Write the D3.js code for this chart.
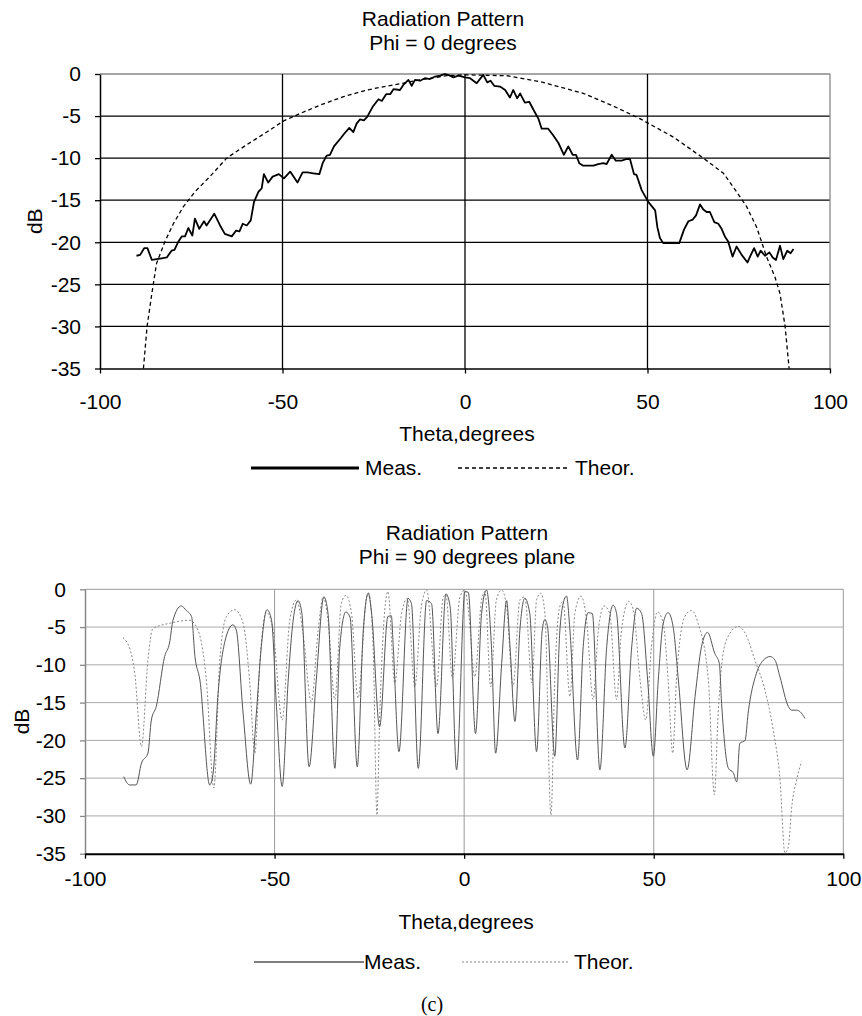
<!DOCTYPE html>
<html>
<head>
<meta charset="utf-8">
<script src="https://cdn.jsdelivr.net/npm/d3@7"></script>
<style>
  body { margin: 0; background: #fff; }
  svg { display: block; font-family: "Liberation Sans", Arial, sans-serif; }
</style>
</head>
<body>
<svg id="fig" width="862" height="1016"></svg>
<script>
const thetaTicks = [-100, -50, 0, 50, 100];
const dbTicks = [0, -5, -10, -15, -20, -25, -30, -35];
const legendLabels = ['Meas.', 'Theor.'];
const xTitle = 'Theta,degrees';
const yTitle = 'dB';
const topTitles = ['Radiation Pattern', 'Phi = 0 degrees'];
const bottomTitles = ['Radiation Pattern', 'Phi = 90 degrees plane'];
const caption = '(c)';

// phi = 0 cut, [theta, dB]
const phi0Meas = [
  [-90, -21.6], [-89, -21.5], [-87.9, -20.7], [-87, -20.7], [-85.8, -22.1], [-84.5, -22],
  [-83.1, -21.9], [-81.7, -21.8], [-80.4, -21], [-79.6, -20.9], [-78.5, -19.9], [-77.6, -19.3],
  [-76.7, -19.3], [-75.8, -18.3], [-74.7, -19.2], [-74, -17.2], [-72.8, -18.4], [-71.5, -17.5],
  [-70.8, -18], [-68.7, -16.6], [-67.1, -18], [-65.8, -19], [-63.9, -19.3], [-62.7, -18.6],
  [-61.8, -18.7], [-60.9, -17.8], [-59.8, -18], [-58.7, -17.4], [-57.8, -15.2], [-56.6, -14],
  [-55.7, -13.6], [-55.1, -11.9], [-53.9, -12.9], [-52.7, -12.2], [-51, -11.9], [-49.6, -12.4],
  [-47.9, -11.6], [-45.9, -12.9], [-44.5, -11.7], [-43.1, -11.7], [-41.6, -11.8], [-39.9, -11.9],
  [-39, -10.6], [-37.9, -9.7], [-37, -9.6], [-35.9, -8.6], [-34, -7.6], [-33.1, -7.1],
  [-31.7, -6.4], [-30.6, -6.9], [-29.7, -5.9], [-28.8, -5.4], [-27.7, -5.5], [-26.8, -5.1],
  [-25.3, -3.9], [-23.7, -3], [-22.8, -3.2], [-21.6, -2.4], [-20.5, -2.4], [-19.6, -1.8],
  [-17.8, -1.9], [-16.9, -1.3], [-15.5, -0.7], [-14.6, -1.4], [-13.7, -0.7], [-12.3, -0.8],
  [-11, -0.5], [-9.6, -0.6], [-8.2, -0.3], [-6.8, -0.2], [-5.5, 0], [-4.1, -0.2],
  [-3.2, -0.4], [-1.8, -0.2], [0, -0.4], [1.4, -0.5], [3.2, -1.1], [5, -0.1],
  [6.1, -1], [7, -0.8], [8, -1.4], [9.6, -1.5], [11, -1.9], [12.3, -2.8],
  [13.2, -1.9], [14.3, -2.9], [15.1, -2.3], [16.4, -3.4], [17.6, -3.3], [19.2, -4.6],
  [20.1, -5.3], [21, -6.5], [22.8, -6.5], [24.2, -7.3], [25.6, -8.2], [27.1, -9.6],
  [28.3, -8.6], [29.5, -9.6], [30.4, -9.6], [31.3, -10.6], [32.4, -10.9], [33.8, -10.9],
  [35.2, -10.9], [36.5, -10.7], [37.9, -10.6], [38.8, -10.7], [40.2, -9.6], [41.3, -10.3],
  [42.9, -10.3], [44.3, -10.1], [45.2, -10.1], [46.3, -11.9], [47, -12], [48.4, -13.8],
  [50.2, -15.2], [52.1, -16.2], [52.7, -18.2], [53.4, -19.5], [54.3, -20.1], [56.2, -20.1],
  [57.1, -20.1], [58.7, -20.1], [60, -18.5], [61.2, -17.5], [62.4, -17.3], [63.3, -16.8],
  [64.4, -15.5], [65.3, -16.1], [66.2, -16.4], [67.1, -16.4], [68.3, -17.6], [69.4, -17.8],
  [70.3, -18.4], [71.2, -19.3], [72.1, -19.9], [73.3, -21.7], [74.4, -20.5], [75.8, -21.5],
  [77.4, -22.4], [78.1, -21.7], [79.2, -20.7], [80.2, -21.7], [81, -21], [82.2, -21.6],
  [83.4, -21.2], [84.3, -21.8], [85.2, -22.1], [86.3, -20.4], [87.2, -22], [88.3, -21],
  [89.2, -21.3], [90, -20.8]
];

const phi0Theor = [
  [-88.1, -35], [-87.1, -30], [-85.8, -26.1], [-84.5, -22.5], [-82.2, -19.9], [-79.9, -17.8],
  [-77.2, -15.8], [-74, -14], [-69.9, -12.2], [-65.3, -10], [-59.8, -8.4], [-54.3, -6.9],
  [-49.8, -5.6], [-45.2, -4.7], [-39.7, -3.7], [-33.3, -2.7], [-26.9, -1.9], [-19.6, -1.3],
  [-12.3, -0.7], [-5, -0.2], [0, -0.1], [11.4, -0.2], [20.5, -0.9], [32.4, -2.3],
  [40.6, -3.8], [47.9, -5.3], [57.1, -7.5], [65.3, -10], [70.8, -11.8], [74.4, -14],
  [77.2, -15.8], [79.9, -18.2], [82.6, -21.7], [84.9, -24.1], [86.3, -26.1], [87.7, -30],
  [88.8, -35]
];

// phi = 90 cut, [theta, dB]
const phi90Meas = [
  [-89.8, -24.8], [-88.2, -25.9], [-86.5, -25.9], [-85.1, -23], [-83.4, -21.7], [-82.5, -17.3],
  [-81.2, -15.5], [-79, -8.9], [-77.7, -7.1], [-76.8, -4.1], [-74.6, -2.2], [-73.3, -2.8],
  [-71.9, -3.6], [-71, -8.9], [-69.7, -12], [-67.1, -25.9], [-66.2, -24.3], [-64.9, -13.8],
  [-63.1, -6.9], [-61, -4.7], [-60.1, -5.4], [-58.3, -16.4], [-56.3, -25.8], [-54.8, -16.4],
  [-53.5, -7.6], [-52, -2.7], [-50.8, -4.1], [-49.5, -15.5], [-48, -26.1], [-46.4, -12],
  [-45.1, -4.1], [-43.8, -1.5], [-42.8, -3.2], [-40.9, -23.5], [-39, -12], [-37, -1],
  [-35.9, -3.2], [-34.1, -23.7], [-32.8, -7.6], [-31.2, -3], [-30.1, -3.7], [-28.2, -23.5],
  [-26.6, -5.4], [-25.3, -0.5], [-24.4, -3.2], [-22.3, -18.2], [-20.1, -3.6], [-19.2, -3.5],
  [-18.7, -7.6], [-17.2, -21.5], [-14.8, -1.2], [-13.9, -1.9], [-12.1, -23.7], [-9.9, -1.5],
  [-8.6, -1.9], [-6.9, -19.1], [-4.8, -0.6], [-3.7, -2.3], [-2, -23.9], [0.2, -0.3],
  [1.1, -0.4], [3, -19.1], [4.6, -3.2], [5.9, -0.1], [7.2, -7.6], [8.3, -21.7],
  [9.9, -9.8], [11.2, -1.5], [12.1, -7.6], [13.4, -17.5], [14.7, -5.4], [16, -1.2],
  [17.3, -3.2], [19.1, -21.5], [20.6, -5.4], [21.3, -4], [22, -5], [23.9, -22.1],
  [25.2, -5.8], [26.1, -1.9], [27, -0.9], [27.9, -5.4], [29.9, -22.6], [31.4, -7.6],
  [32.7, -3.1], [33.8, -3.2], [35.8, -23.9], [37.6, -7.6], [39.3, -2.1], [40.2, -3.2],
  [42.4, -21], [44.2, -7.6], [45.5, -2.5], [46.8, -3.2], [48.4, -12], [49.9, -22.1],
  [51.2, -12], [52.5, -4.5], [53.8, -3.1], [55.1, -4.9], [56.5, -12], [58.8, -23.9],
  [60.9, -14.2], [62.6, -7.6], [64.2, -5.7], [66.1, -8.5], [67.3, -9.8], [67.9, -15.1],
  [69.7, -23.7], [71, -24.3], [71.9, -25.5], [72.7, -20.4], [74.1, -20], [74.9, -16.4],
  [77.1, -11.1], [78.9, -9.4], [80.7, -8.9], [82, -9.4], [83.3, -11.6], [85.5, -15.5],
  [86.4, -16], [87.7, -16], [88.6, -16.2], [89.9, -17.1]
];

const phi90Theor = [
  [-90, -6.4], [-88.1, -8], [-86.9, -11], [-85.1, -20.8], [-83.4, -9.4], [-82.1, -5.2],
  [-77.7, -4.5], [-72.4, -4.1], [-70.2, -5.4], [-68, -12], [-66, -26.3], [-64.5, -9.8],
  [-62.7, -3.6], [-60.5, -2.7], [-58.3, -4.5], [-56.6, -12], [-55.2, -21.7], [-53.9, -9.8],
  [-52.2, -3], [-50.4, -5.4], [-48, -17.3], [-46, -4.1], [-44.2, -1.4], [-42.5, -5.8],
  [-40.3, -14.9], [-38.5, -5.4], [-37.2, -1], [-35.9, -4.1], [-34.1, -14.6], [-32.4, -1.9],
  [-31.2, -0.8], [-29.7, -3.2], [-28, -14.4], [-25.8, -1.4], [-25.2, -0.5], [-24, -7.6],
  [-23, -29.9], [-22.3, -17.3], [-20.1, -0.3], [-18.3, -12.4], [-16.5, -3.2], [-15, -1.2],
  [-13, -12.9], [-11.3, -2.3], [-9.9, -0.1], [-7.3, -12.9], [-5.5, -1], [-4.8, -0.7],
  [-3.1, -11.8], [-1.1, -1], [0.2, -0.1], [1.1, -2.7], [2.8, -11.6], [4.6, -1.4],
  [5.5, -0.3], [7, -12.9], [8.5, -1.4], [9.9, -0.1], [11.2, -2.3], [12.9, -12.9],
  [14.7, -1.4], [16, -1], [17.9, -12.4], [19.1, -1.4], [20.2, -0.5], [21.3, -3.2],
  [22.9, -29.9], [23.9, -12], [25.2, -2.3], [26.1, -1.6], [27.9, -14.2], [29.2, -3.2],
  [30.8, -0.9], [32.3, -4.1], [34, -14.6], [35.4, -5.4], [36.9, -2.2], [38.4, -3.2],
  [40.2, -14.6], [41.5, -5.4], [43.4, -1.6], [44.6, -2.7], [46.4, -12], [47.9, -17.3],
  [49.4, -7.6], [51, -3], [52.5, -4.5], [53.8, -12], [55, -21.7], [56, -12],
  [58.2, -3.6], [60, -2.8], [61.7, -4.5], [64.4, -12], [66, -27.2], [67, -16.4],
  [68.3, -8.5], [70.1, -5.8], [72.3, -4.9], [74.1, -5.8], [76.7, -9.4], [79.3, -13.3],
  [81.5, -18.6], [83.3, -25.2], [84.6, -34.9], [85.5, -34.1], [86.4, -28.8], [87.7, -25.2],
  [89, -22.8]
];

const FONT_SIZE = 21;
const svg = d3.select('#fig');

function drawPanel(p) {
  const x = d3.scaleLinear().domain([-100, 100]).range([p.left, p.right]);
  const y = d3.scaleLinear().domain([-35, 0]).range([p.bottom, p.top]);
  const g = svg.append('g');

  // titles
  p.titles.forEach((t, i) => {
    g.append('text')
      .attr('x', p.titleX)
      .attr('y', p.titleY[i])
      .attr('dy', '0.35em')
      .attr('text-anchor', 'middle')
      .attr('font-size', FONT_SIZE)
      .attr('fill', '#000')
      .text(t);
  });

  // horizontal grid
  g.append('g').selectAll('line')
    .data(dbTicks.filter((d) => d !== -35))
    .join('line')
    .attr('x1', p.left).attr('x2', p.right)
    .attr('y1', (d) => y(d)).attr('y2', (d) => y(d))
    .attr('stroke', (d) => (d === 0 ? p.borderColor : p.gridColor))
    .attr('stroke-width', p.gridWidth);

  // vertical grid
  g.append('g').selectAll('line')
    .data(thetaTicks.filter((d) => d !== -100))
    .join('line')
    .attr('x1', (d) => x(d)).attr('x2', (d) => x(d))
    .attr('y1', p.top).attr('y2', p.bottom)
    .attr('stroke', (d) => (d === 100 ? p.borderColor : p.vGridColor))
    .attr('stroke-width', p.gridWidth);

  // axes (plain hyphen minus, as in the source)
  const fmt = (d) => String(d);

  const yAxis = g.append('g')
    .attr('transform', `translate(${p.left},0)`)
    .call(d3.axisLeft(y).tickValues(dbTicks).tickSize(5).tickSizeOuter(0)
      .tickPadding(p.yPad).tickFormat(fmt));
  yAxis.select('.domain').attr('stroke', p.leftAxisColor).attr('stroke-width', p.leftAxisWidth);
  yAxis.selectAll('.tick line').attr('stroke', p.leftAxisColor).attr('stroke-width', 1.3);

  const xAxis = g.append('g')
    .attr('transform', `translate(0,${p.bottom})`)
    .call(d3.axisBottom(x).tickValues(thetaTicks).tickSize(5).tickSizeOuter(0)
      .tickPadding(p.xPad).tickFormat(fmt));
  xAxis.select('.domain').attr('stroke', '#000').attr('stroke-width', p.bottomAxisWidth);
  xAxis.selectAll('.tick line').attr('stroke', '#000').attr('stroke-width', 1.3);

  [yAxis, xAxis].forEach((a) => {
    a.attr('font-family', null).attr('font-size', null);
    a.selectAll('text').attr('font-size', FONT_SIZE).attr('fill', '#000');
  });
  xAxis.selectAll('text').attr('dy', '0.71em');

  // axis titles
  g.append('text')
    .attr('x', (p.left + p.right) / 2 + 2)
    .attr('y', p.xTitleY)
    .attr('dy', '0.35em')
    .attr('text-anchor', 'middle')
    .attr('font-size', FONT_SIZE)
    .text(xTitle);

  g.append('text')
    .attr('transform', `translate(${p.yTitleX},${(p.top + p.bottom) / 2}) rotate(-90)`)
    .attr('dy', '0.35em')
    .attr('text-anchor', 'middle')
    .attr('font-size', FONT_SIZE)
    .text(yTitle);

  // series
  const line = d3.line()
    .x((d) => x(d[0]))
    .y((d) => y(d[1]))
    .curve(p.curve);

  g.append('path')
    .datum(p.theor)
    .attr('d', line)
    .attr('fill', 'none')
    .attr('stroke', p.theorColor)
    .attr('stroke-width', p.theorWidth)
    .attr('stroke-dasharray', p.dash);

  g.append('path')
    .datum(p.meas)
    .attr('d', line)
    .attr('fill', 'none')
    .attr('stroke', p.measColor)
    .attr('stroke-width', p.measWidth)
    .attr('stroke-linejoin', 'round');

  // legend
  const lg = g.append('g');
  lg.append('line')
    .attr('x1', p.legend[0]).attr('x2', p.legend[1])
    .attr('y1', p.legendY).attr('y2', p.legendY)
    .attr('stroke', p.measColor)
    .attr('stroke-width', p.legendMeasWidth);
  lg.append('text')
    .attr('x', p.legend[2]).attr('y', p.legendY)
    .attr('dy', '0.35em')
    .attr('font-size', FONT_SIZE)
    .text(legendLabels[0]);
  lg.append('line')
    .attr('x1', p.legend[3]).attr('x2', p.legend[4])
    .attr('y1', p.legendY).attr('y2', p.legendY)
    .attr('stroke', p.theorColor)
    .attr('stroke-width', p.theorWidth)
    .attr('stroke-dasharray', p.dash);
  lg.append('text')
    .attr('x', p.legend[5]).attr('y', p.legendY)
    .attr('dy', '0.35em')
    .attr('font-size', FONT_SIZE)
    .text(legendLabels[1]);
}

drawPanel({
  left: 100, right: 830, top: 74, bottom: 368.5,
  titles: topTitles, titleX: 443, titleY: [19, 43],
  gridColor: '#000', vGridColor: '#000', borderColor: '#888', gridWidth: 1.3,
  leftAxisColor: '#000', leftAxisWidth: 1.5, bottomAxisWidth: 1.5,
  yPad: 14, xPad: 21, xTitleY: 434, yTitleX: 35,
  meas: phi0Meas, theor: phi0Theor, curve: d3.curveLinear,
  measColor: '#000', measWidth: 1.8, theorColor: '#000', theorWidth: 1.3, dash: '4,3',
  legend: [251, 359, 365, 458, 567, 575], legendY: 468, legendMeasWidth: 3
});

drawPanel({
  left: 85, right: 843.3, top: 589.3, bottom: 853.7,
  titles: bottomTitles, titleX: 467, titleY: [533, 557],
  gridColor: '#aaa', vGridColor: '#999', borderColor: '#999', gridWidth: 1,
  leftAxisColor: '#888', leftAxisWidth: 1.5, bottomAxisWidth: 2,
  yPad: 14, xPad: 12, xTitleY: 922, yTitleX: 22,
  meas: phi90Meas, theor: phi90Theor, curve: d3.curveMonotoneX,
  measColor: '#555', measWidth: 1, theorColor: '#888', theorWidth: 1, dash: '2,2',
  legend: [254, 364, 364, 462, 568, 574], legendY: 962, legendMeasWidth: 1.3
});

svg.append('text')
  .attr('x', 432)
  .attr('y', 1004)
  .attr('dy', '0.35em')
  .attr('text-anchor', 'middle')
  .attr('font-family', '"Liberation Serif", "Times New Roman", serif')
  .attr('font-size', 20)
  .text(caption);
</script>
</body>
</html>
